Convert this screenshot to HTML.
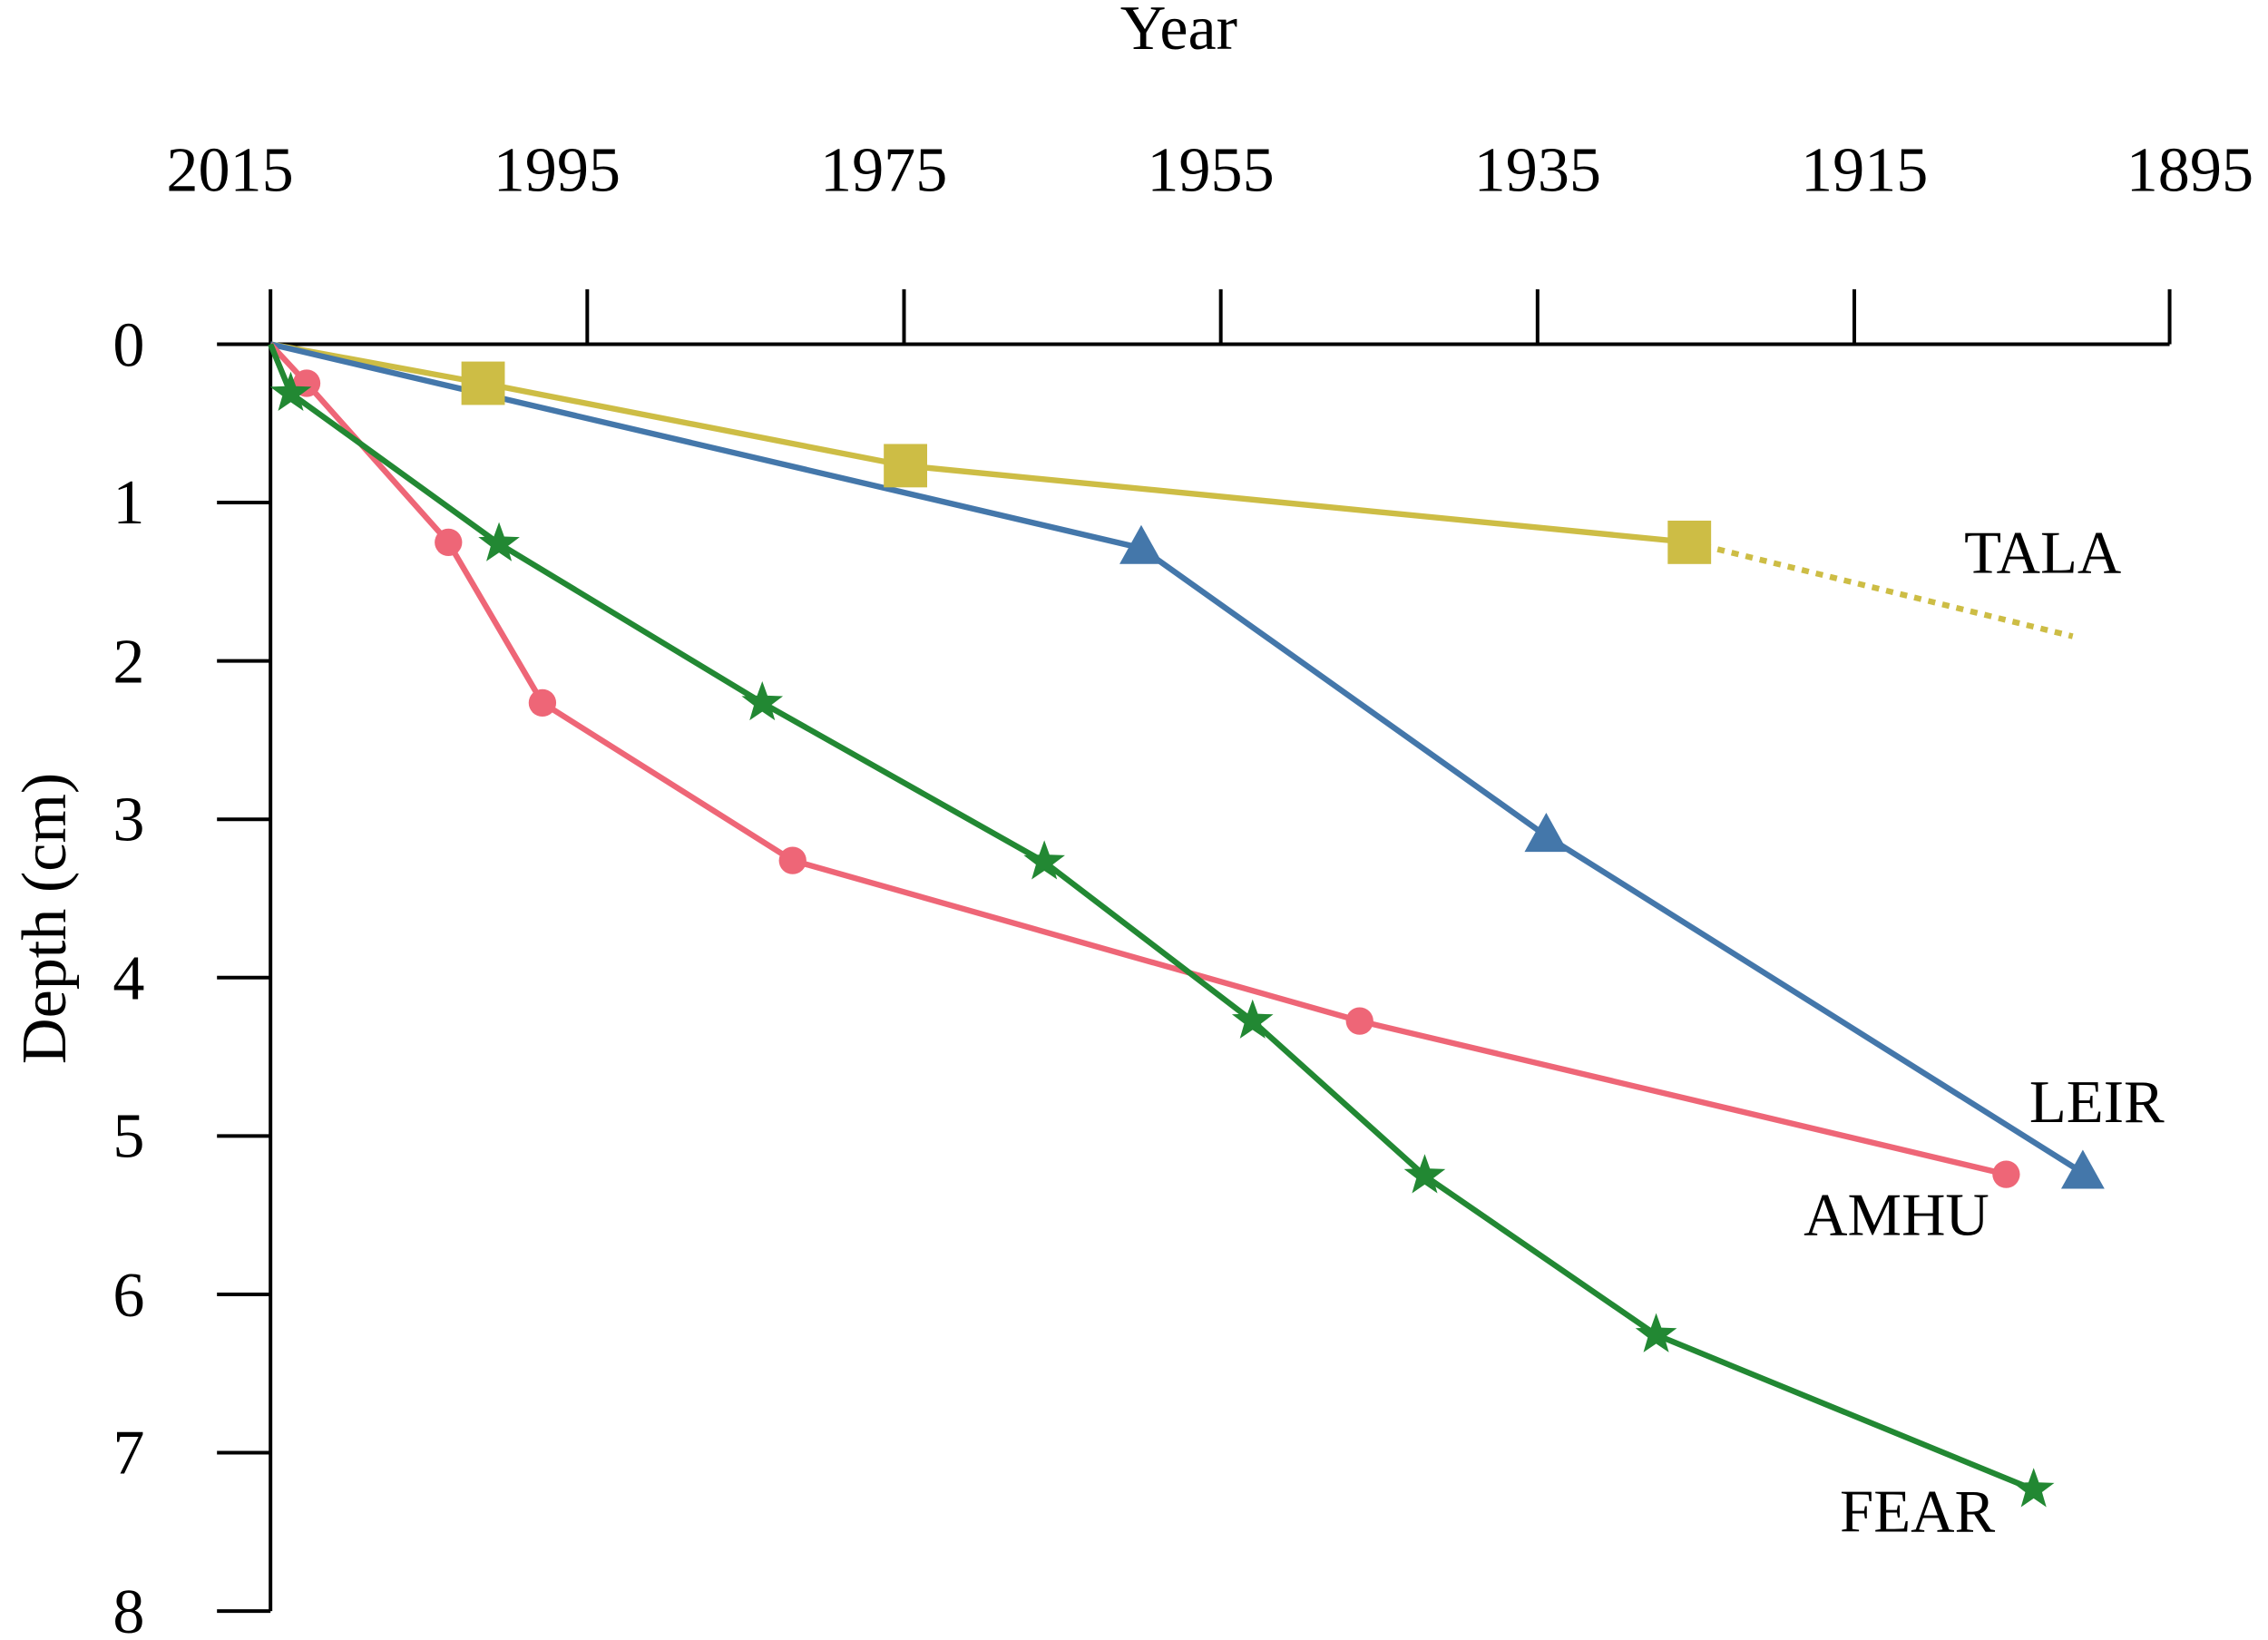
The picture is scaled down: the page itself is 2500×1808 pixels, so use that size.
<!DOCTYPE html>
<html><head><meta charset="utf-8"><style>html,body{margin:0;padding:0;background:#fff}svg{display:block}</style></head>
<body>
<svg width="2500" height="1808" viewBox="0 0 1568 1134" xmlns="http://www.w3.org/2000/svg" font-family="'Liberation Serif', serif" font-size="44" fill="#000">
<rect width="1568" height="1134" fill="#fff"/>
<g stroke="#000" stroke-width="2.5" fill="none">
<line x1="187" y1="238" x2="1500" y2="238"/>
<line x1="187" y1="200" x2="187" y2="1114"/>
<line x1="406" y1="200" x2="406" y2="238"/><line x1="625" y1="200" x2="625" y2="238"/>
<line x1="844" y1="200" x2="844" y2="238"/><line x1="1063" y1="200" x2="1063" y2="238"/>
<line x1="1282" y1="200" x2="1282" y2="238"/><line x1="1500" y1="200" x2="1500" y2="238"/>
<line x1="150" y1="238" x2="187" y2="238"/><line x1="150" y1="347.5" x2="187" y2="347.5"/>
<line x1="150" y1="457" x2="187" y2="457"/><line x1="150" y1="566.5" x2="187" y2="566.5"/>
<line x1="150" y1="676" x2="187" y2="676"/><line x1="150" y1="785.5" x2="187" y2="785.5"/>
<line x1="150" y1="895" x2="187" y2="895"/><line x1="150" y1="1004.5" x2="187" y2="1004.5"/>
<line x1="150" y1="1114" x2="187" y2="1114"/>
</g>
<g text-anchor="middle">
<text x="815" y="34">Year</text>
<text x="159" y="132">2015</text><text x="385" y="132">1995</text><text x="611" y="132">1975</text>
<text x="837" y="132">1955</text><text x="1063" y="132">1935</text><text x="1289" y="132">1915</text><text x="1514" y="132">1895</text>
</g>
<g text-anchor="end">
<text x="100" y="253">0</text><text x="100" y="362">1</text><text x="100" y="472">2</text><text x="100" y="581">3</text>
<text x="100" y="691">4</text><text x="100" y="800">5</text><text x="100" y="910">6</text><text x="100" y="1019">7</text><text x="100" y="1129">8</text>
</g>
<text transform="translate(45,635) rotate(-90)" text-anchor="middle">Depth (cm)</text>
<text x="1358" y="396" font-size="42">TALA</text>
<text x="1403" y="776" font-size="42">LEIR</text>
<text x="1247" y="854" font-size="42">AMHU</text>
<text x="1272" y="1059" font-size="42">FEAR</text>
<g fill="none" stroke-width="4">
<polyline stroke="#cdbd45" points="187,238 334,265 626,322 1168,375"/>
<line stroke="#cdbd45" stroke-dasharray="5,5" x1="1168" y1="375" x2="1433" y2="440"/>
<polyline stroke="#4477aa" points="187,238 789,379 1069,578 1440,811"/>
<polyline stroke="#ee6677" points="187,238 212,265 310,375 375,486 548,595 940,706 1387,812"/>
<polyline stroke="#228833" points="187,238 201,272 345,376 527,486 722,596 866,706 985,813 1145,923 1406,1030"/>
</g>
<g fill="#cdbd45">
<rect x="319" y="250" width="30" height="30"/><rect x="611" y="307" width="30" height="30"/><rect x="1153" y="360" width="30" height="30"/>
</g>
<g fill="#4477aa">
<polygon points="789,363 774,390 804,390"/><polygon points="1069,562 1054,589 1084,589"/><polygon points="1440,795 1425,822 1455,822"/>
</g>
<g fill="#ee6677">
<circle cx="212" cy="265" r="9.5"/><circle cx="310" cy="375" r="9.5"/><circle cx="375" cy="486" r="9.5"/><circle cx="548" cy="595" r="9.5"/><circle cx="940" cy="706" r="9.5"/><circle cx="1387" cy="812" r="9.5"/>
</g>
<defs><polygon id="st" points="0,-15 3.6,-5 14.3,-4.6 5.8,1.8 8.8,12.1 0,6.1 -8.8,12.1 -5.8,1.8 -14.3,-4.6 -3.6,-5" fill="#228833"/></defs>
<use href="#st" x="201" y="272"/><use href="#st" x="345" y="376"/><use href="#st" x="527" y="486"/><use href="#st" x="722" y="596"/>
<use href="#st" x="866" y="706"/><use href="#st" x="985" y="813"/><use href="#st" x="1145" y="923"/><use href="#st" x="1406" y="1030"/>
</svg>
</body></html>
